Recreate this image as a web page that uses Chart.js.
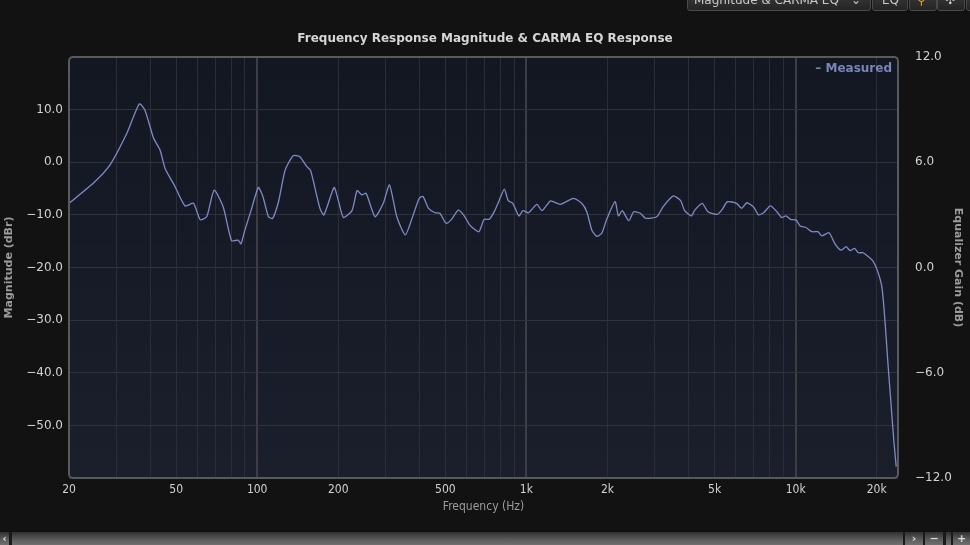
<!DOCTYPE html>
<html>
<head>
<meta charset="utf-8">
<script src="https://cdn.jsdelivr.net/npm/chart.js@4/dist/chart.umd.min.js"></script>
<style>
  html, body { margin: 0; padding: 0; background: #121212; overflow: hidden; }
  #wrap { position: relative; width: 970px; height: 545px; }
  #chart { position: absolute; left: 0; top: 0; }
  #legend { position: absolute; right: 78px; top: 60px; color: #7984b8;
            font: bold 12px "DejaVu Sans", sans-serif; line-height: 16px; }
  .tb { position: absolute; top: -8px; height: 17px; border: 1px solid #4a4a4a; border-radius: 3px;
        background: linear-gradient(#3a3a3a, #242424); color: #c8c8c8;
        font: 12px "DejaVu Sans", sans-serif; line-height: 12px; box-sizing: content-box; }
  .tb span { position: absolute; top: 1px; }
  #scroll { position: absolute; left: 0; top: 532px; width: 970px; height: 13px; background: #1a1a1a; }
  .sb { position: absolute; top: 0; height: 13px; background: linear-gradient(#303030, #5c5c5c 60%, #707070);
        color: #d8d8d8; font: bold 11px "DejaVu Sans", sans-serif; line-height: 13px; text-align: center; }
</style>
</head>
<body>
<div id="wrap">
  <canvas id="chart" width="970" height="545"></canvas>
  <div id="legend">&ndash; Measured</div>
  <div class="tb" style="left:687px; width:182px;"><span style="left:6px">Magnitude &amp; CARMA EQ</span><span style="left:163px">&#8964;</span></div>
  <div class="tb" style="left:872px; width:34px;"><span style="left:9px">EQ</span></div>
  <div class="tb" style="left:909px; width:26px;"><span style="left:7px; color:#d9a441">&#9906;</span></div>
  <div class="tb" style="left:937px; width:26px;"><span style="left:7px">&#10019;</span></div>
  <div class="tb" style="left:966px; width:20px;"></div>
  <div id="scroll">
    <div class="sb" style="left:0; width:9px;">&lsaquo;</div>
    <div class="sb" style="left:12px; width:891px;"></div>
    <div class="sb" style="left:905px; width:18px;">&rsaquo;</div>
    <div class="sb" style="left:925px; width:18px;">&minus;</div>
    <div class="sb" style="left:946px; width:5px;"></div>
    <div class="sb" style="left:953px; width:17px;">+</div>
  </div>
</div>
<script>
const freqs = [20, 24.6, 28.4, 32.8, 36.5, 38.3, 41.2, 43.6, 45.5, 49.5, 54, 58, 61.4, 65, 69.2, 74.8,
  80.3, 85, 87, 90, 95, 101, 105, 110, 114, 120, 127, 136, 144, 153, 158, 171, 177, 193, 200, 209,
  225, 235, 245, 254, 274, 294, 310, 330, 355, 376, 400, 413, 433, 458, 477, 503, 527, 558, 584,
  620, 666, 696, 728, 763, 793, 828, 856, 890, 938, 970, 1018, 1094, 1142, 1230, 1336, 1496, 1604,
  1676, 1750, 1826, 1904, 1987, 2135, 2196, 2270, 2400, 2505, 2650, 2770, 3050, 3220, 3510, 3740,
  3870, 4100, 4220, 4500, 4720, 5120, 5340, 5580, 6030, 6300, 6590, 6990, 7280, 7600, 8060, 8520,
  8870, 9200, 9580, 10050, 10380, 10920, 11500, 12100, 12500, 13300, 14000, 14730, 15400, 15940,
  16550, 17100, 17800, 19260, 20090, 20900, 21460, 22020, 22600, 23200, 23640];
const magnitude = [-7.8, -4.0, -0.5, 5.5, 11.1, 9.9, 4.6, 2.3, -1.2, -4.6, -8.3, -7.8, -10.9, -10.3, -5.3, -8.5,
  -14.9, -14.8, -15.5, -12.9, -9.1, -4.8, -6.5, -10.3, -10.7, -7.5, -1.5, 1.25, 1.05, -0.85, -1.6, -8.75, -10, -4.8, -7.2, -10.5,
  -9.2, -5.4, -6.2, -5.9, -10.35, -7.8, -4.3, -10.35, -13.8, -10.65, -6.85, -6.5, -8.75, -9.6, -9.7, -11.6, -10.85, -9.1, -10,
  -12.1, -13.2, -10.85, -10.85, -9.2, -7.2, -5.1, -7.3, -7.8, -10.2, -9.2, -9.6, -8.0, -9.2, -7.35, -8.0, -6.85, -7.8,
  -9.4, -12.9, -14.1, -13.5, -10.85, -7.5, -10.2, -9.2, -11.1, -9.4, -9.7, -10.65, -10.35, -8.45, -6.4, -7.3,
  -9.2, -10.2, -9.1, -7.8, -9.4, -9.9, -8.95, -7.5, -7.8, -8.75, -7.7, -8.55, -10, -9.6, -8.3, -9.4,
  -10.5, -10.2, -10.85, -11, -12.1, -12.4, -13.2, -13.2, -14.0, -13.4, -15.5, -16.7, -16.05, -16.8,
  -16.35, -17.2, -17.2, -18.6, -20.5, -23.65, -30, -38.2, -45.8, -53.4, -57.85];

const gridFreqs = [20, 30, 40, 50, 60, 70, 80, 90, 100, 200, 300, 400, 500, 600, 700, 800, 900,
  1000, 2000, 3000, 4000, 5000, 6000, 7000, 8000, 9000, 10000, 20000];
const tickFreqs = [20, 50, 100, 200, 500, 1000, 2000, 5000, 10000, 20000];
const tickLabels = ['20', '50', '100', '200', '500', '1k', '2k', '5k', '10k', '20k'];
const majorFreqs = [100, 1000, 10000];

const fmt = v => (v < 0 ? '\u2212' + Math.abs(v).toFixed(1) : v.toFixed(1));

const plotBg = {
  id: 'plotBg',
  beforeDraw(chart) {
    const { ctx, chartArea: a } = chart;
    const g = ctx.createLinearGradient(0, a.top, 0, a.bottom);
    g.addColorStop(0, '#131722');
    g.addColorStop(1, '#1b1f2c');
    ctx.save();
    ctx.fillStyle = g;
    ctx.fillRect(a.left, a.top, a.right - a.left, a.bottom - a.top);
    ctx.restore();
  },
  afterDatasetsDraw(chart) {
    const { ctx, chartArea: a } = chart;
    ctx.save();
    ctx.strokeStyle = '#595a5c';
    ctx.lineWidth = 2;
    ctx.beginPath();
    ctx.roundRect(a.left, a.top, a.right - a.left, a.bottom - a.top, 4);
    ctx.stroke();
    ctx.restore();
  }
};

const tickFont = { family: '"DejaVu Sans", sans-serif', size: 12 };
const condFont = { family: '"DejaVu Sans Condensed", "Liberation Sans Narrow", "DejaVu Sans", sans-serif', size: 12 };
const axisTitleFont = { family: '"DejaVu Sans", sans-serif', size: 11, weight: 'bold' };

new Chart(document.getElementById('chart'), {
  type: 'line',
  data: {
    datasets: [{
      label: 'Measured',
      data: freqs.map((f, i) => ({ x: f, y: magnitude[i] })),
      borderColor: '#7f8bc4',
      borderWidth: 1.3,
      pointRadius: 0,
      tension: 0.2,
      yAxisID: 'y'
    }]
  },
  options: {
    responsive: false,
    animation: false,
    layout: { padding: 0 },
    plugins: {
      title: {
        display: true,
        text: 'Frequency Response Magnitude & CARMA EQ Response',
        color: '#d6d6d6',
        font: { family: '"DejaVu Sans", sans-serif', size: 12, weight: 'bold' },
        padding: { top: 32, bottom: 10.6 }
      },
      legend: { display: false },
      tooltip: { enabled: false }
    },
    scales: {
      x: {
        type: 'logarithmic',
        min: 20,
        max: 24000,
        afterBuildTicks: s => { s.ticks = gridFreqs.map(v => ({ value: v })); },
        afterFit: s => { s.height = 67; },
        grid: {
          drawTicks: false,
          color: c => majorFreqs.includes(c.tick && c.tick.value) ? '#3c3e44' : '#2b2e35',
          lineWidth: c => majorFreqs.includes(c.tick && c.tick.value) ? 2 : 1
        },
        border: { display: false },
        ticks: {
          autoSkip: false,
          maxRotation: 0,
          padding: 5,
          color: '#d2d2d2',
          font: condFont,
          callback: v => { const i = tickFreqs.indexOf(v); return i >= 0 ? tickLabels[i] : ''; }
        },
        title: {
          display: true,
          text: 'Frequency (Hz)',
          color: '#9c9c9c',
          font: condFont,
          padding: { top: 0, bottom: 31 }
        }
      },
      y: {
        position: 'left',
        min: -60,
        max: 20,
        afterFit: s => { s.width = 69; },
        grid: { drawTicks: false, color: '#30333a' },
        border: { display: false },
        ticks: {
          stepSize: 10,
          padding: 6,
          color: '#d2d2d2',
          font: tickFont,
          callback: v => (v > -60 && v < 20) ? fmt(v) : ''
        },
        title: {
          display: true,
          text: 'Magnitude (dBr)',
          color: '#9c9c9c',
          font: axisTitleFont,
          padding: { top: 3, bottom: 0 }
        }
      },
      y1: {
        position: 'right',
        min: -12,
        max: 12,
        afterFit: s => { s.width = 72; },
        grid: { display: false },
        border: { display: false },
        ticks: {
          stepSize: 6,
          padding: 9,
          color: '#d2d2d2',
          font: tickFont,
          callback: v => fmt(v)
        },
        title: {
          display: true,
          text: 'Equalizer Gain (dB)',
          color: '#9c9c9c',
          font: axisTitleFont,
          padding: { top: 6, bottom: 0 }
        }
      }
    }
  },
  plugins: [plotBg]
});
</script>
</body>
</html>
